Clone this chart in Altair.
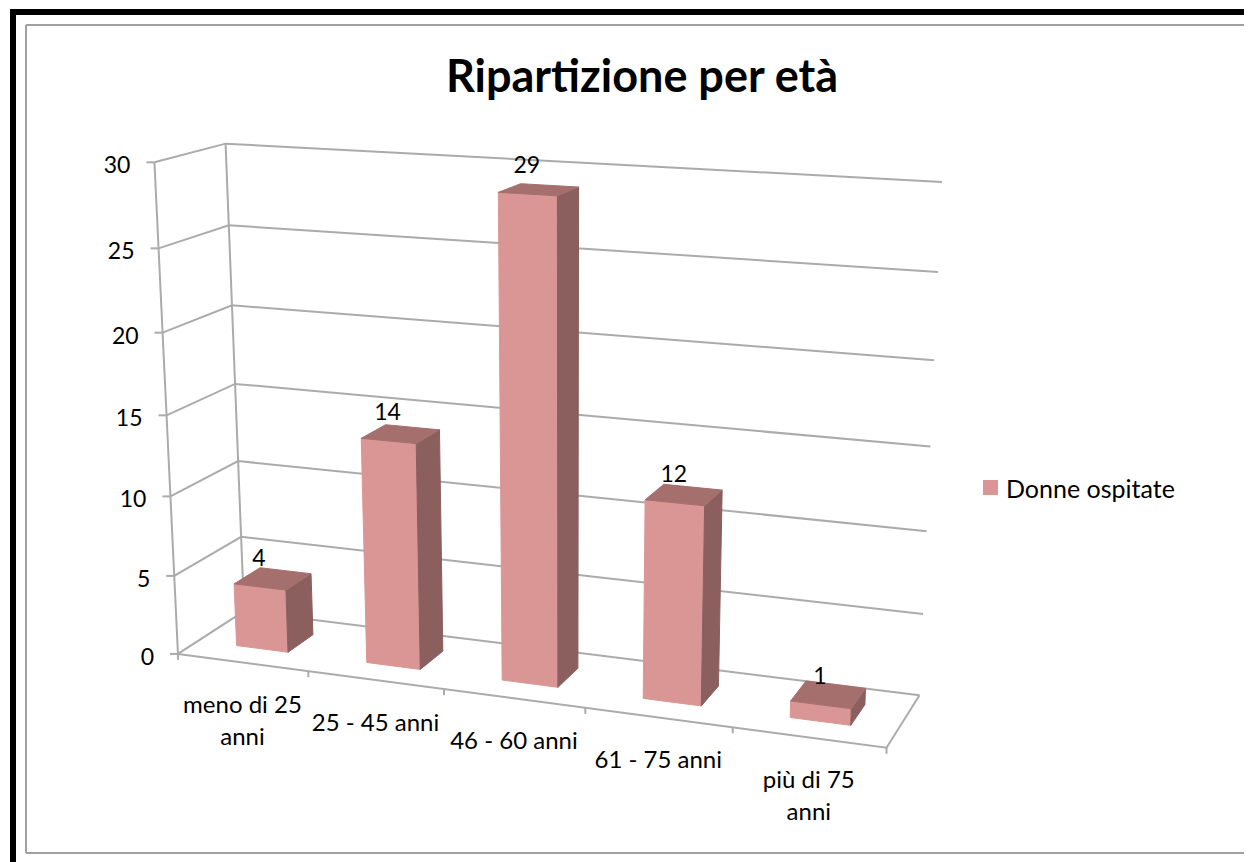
import altair as alt
import numpy as np
import pandas as pd

categories = ["meno di 25\nanni", "25 - 45 anni", "46 - 60 anni", "61 - 75 anni", "più di 75\nanni"]
values = [4, 14, 29, 12, 1]
value_ticks = [0, 5, 10, 15, 20, 25, 30]
series_name = "Donne ospitate"
title_text = "Ripartizione per età"

FONT = "Lato"
FRONT = "#D99694"
SIDE = "#8A5F5E"
TOP = "#A56F6E"
GRID = "#ABABAB"
W, H = 1236, 854

# Perspective of the chart box: (category position, value, depth) -> picture position
box_u = [0, 0, 0, 0, 5, 5, 5]
box_v = [0, 30, 0, 30, 0, 30, 0]
box_w = [0, 0, 1, 1, 1, 1, 0]
box_px = [177, 155, 245, 225, 919, 942, 887]
box_py = [653, 163, 612, 143, 695, 182, 748]

rows = []
for u, v, w, px, py in zip(box_u, box_v, box_w, box_px, box_py):
    rows.append([u, v, w, 1, 0, 0, 0, 0, -px * u, -px * v, -px * w, -px])
    rows.append([0, 0, 0, 0, u, v, w, 1, -py * u, -py * v, -py * w, -py])
_, _, vt = np.linalg.svd(np.array(rows, dtype=float))
P = vt[-1].reshape(3, 4)


def proj(u, v, w):
    q = P @ np.array([u, v, w, 1.0])
    return float(q[0] / q[2]), float(q[1] / q[2])


def seg(rows, key, pts):
    for k, (u, v, w) in enumerate(pts):
        x, y = proj(u, v, w)
        rows.append({"key": key, "o": k, "x": x, "y": y})


x_scale = alt.Scale(domain=[8, 8 + W], range=[0, W], nice=False, zero=False)
y_scale = alt.Scale(domain=[8, 8 + H], range=[0, H], nice=False, zero=False)
X = alt.X("x:Q", scale=x_scale, axis=None)
Y = alt.Y("y:Q", scale=y_scale, axis=None)

# Gridlines and box
grid_rows = []
for t in value_ticks:
    seg(grid_rows, f"g{t}", [(0, t, 0), (0, t, 1), (5, t, 1)])
seg(grid_rows, "left", [(0, 0, 0), (0, 30, 0)])
seg(grid_rows, "back", [(0, 0, 1), (0, 30, 1)])
seg(grid_rows, "floor", [(0, 0, 0), (5, 0, 0), (5, 0, 1)])
# Ticks
for t in value_ticks:
    x, y = proj(0, t, 0)
    grid_rows += [{"key": f"vt{t}", "o": 0, "x": x - 8, "y": y}, {"key": f"vt{t}", "o": 1, "x": x, "y": y}]
for i in range(6):
    x, y = proj(i, 0, 0)
    grid_rows += [{"key": f"ct{i}", "o": 0, "x": x, "y": y}, {"key": f"ct{i}", "o": 1, "x": x, "y": y + 6}]
grid = alt.Chart(pd.DataFrame(grid_rows)).mark_line(color=GRID, strokeWidth=2).encode(
    x=X, y=Y, detail="key:N", order="o:Q"
)

# Bars
GAP = 0.3
front, side, top = [], [], []
for i, val in enumerate(values):
    a, b = i + GAP, i + 1 - GAP
    f, k = GAP, 1 - GAP
    seg(front, i, [(a, 0, f), (b, 0, f), (b, val, f), (a, val, f)])
    seg(side, i, [(b, 0, f), (b, 0, k), (b, val, k), (b, val, f)])
    seg(top, i, [(a, val, f), (b, val, f), (b, val, k), (a, val, k)])


def face(rows, color):
    return alt.Chart(pd.DataFrame(rows)).mark_line(
        interpolate="linear-closed", fill=color, stroke=color, strokeWidth=1
    ).encode(x=X, y=Y, detail="key:N", order="o:Q")


# Labels
vt_rows = [{"x": proj(0, t, 0)[0] - 24, "y": proj(0, t, 0)[1] + 4, "t": str(t)} for t in value_ticks]
vt_text = alt.Chart(pd.DataFrame(vt_rows)).mark_text(
    font=FONT, fontSize=23, align="right", baseline="middle", color="#000000"
).encode(x=X, y=Y, text="t:N")

cat_rows = []
for i, c in enumerate(categories):
    x, y = proj(i + 0.5, 0, 0)
    for n, line in enumerate(c.split("\n")):
        cat_rows.append({"x": x, "y": y + 44 + 32 * n, "t": line})
cat_text = alt.Chart(pd.DataFrame(cat_rows)).mark_text(
    font=FONT, fontSize=24, align="center", baseline="middle", color="#000000"
).encode(x=X, y=Y, text="t:N")

val_rows = []
for i, val in enumerate(values):
    x, y = proj(i + 0.5, val, 0.3)
    val_rows.append({"x": x - 1, "y": y - 28, "t": str(val)})
val_text = alt.Chart(pd.DataFrame(val_rows)).mark_text(
    font=FONT, fontSize=23, align="center", baseline="middle", color="#000000"
).encode(x=X, y=Y, text="t:N")

blank = pd.DataFrame({"a": [0]})


def rule(x, x2, y, y2, color, sw):
    return alt.Chart(blank).mark_rule(color=color, strokeWidth=sw).encode(
        x=alt.value(x - 8), x2=alt.value(x2 - 8), y=alt.value(y - 8), y2=alt.value(y2 - 8)
    )


frame = [
    rule(10, 1252, 12, 12, "#000000", 6),
    rule(13, 13, 9, 862, "#000000", 6),
    rule(26, 1252, 25, 25, "#A0A0A0", 2),
    rule(26, 26, 25, 853, "#A0A0A0", 2),
    rule(26, 1252, 853, 853, "#A0A0A0", 2),
]

title = alt.Chart(pd.DataFrame({"t": [title_text]})).mark_text(
    font=FONT, fontSize=45, fontWeight="bold", align="center", baseline="middle", color="#000000"
).encode(x=alt.value(642 - 8), y=alt.value(78 - 8), text="t:N")

legend_swatch = alt.Chart(blank).mark_rect(color=FRONT).encode(
    x=alt.value(983 - 8), x2=alt.value(998 - 8), y=alt.value(480 - 8), y2=alt.value(495 - 8)
)
legend_text = alt.Chart(pd.DataFrame({"t": [series_name]})).mark_text(
    font=FONT, fontSize=25, align="left", baseline="middle", color="#000000"
).encode(x=alt.value(1006 - 8), y=alt.value(490 - 8), text="t:N")

chart = alt.layer(
    *frame, grid, face(front, FRONT), face(side, SIDE), face(top, TOP),
    vt_text, cat_text, val_text, title, legend_swatch, legend_text
).properties(
    width=W, height=H, padding=0, autosize="none", background="white"
).configure_view(stroke=None)

chart.save("out.html", embed_options={"renderer": "svg", "actions": False})
